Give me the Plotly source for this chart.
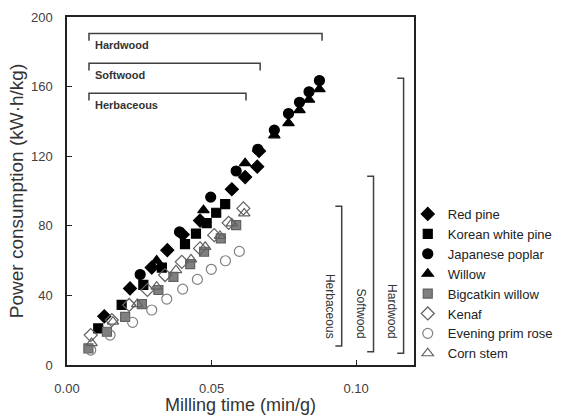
import plotly.graph_objects as go

# ---------------- data ----------------
red_pine_x = [0.0129, 0.0218, 0.0293, 0.0347, 0.0400, 0.0460, 0.0570, 0.0616, 0.0658, 0.0664]
red_pine_y = [28, 44, 56, 66, 75, 83, 101, 108, 114, 123]

korean_x = [0.0108, 0.0189, 0.0264, 0.0328, 0.0408, 0.0446, 0.0483, 0.0516, 0.0547]
korean_y = [21, 34.5, 46, 56, 69.5, 75.5, 81.5, 87.5, 92.5]

poplar_x = [0.0253, 0.0389, 0.0497, 0.0585, 0.0660, 0.0717, 0.0766, 0.0804, 0.0837, 0.0873]
poplar_y = [52, 76.5, 96.5, 111.5, 124, 135, 144.5, 151, 157, 163.5]

willow_x = [0.0310, 0.0472, 0.0616, 0.0717, 0.0766, 0.0804, 0.0837, 0.0873]
willow_y = [60, 89, 116, 132, 139, 146.5, 152.5, 158.5]

bigcatkin_x = [0.0074, 0.0138, 0.0201, 0.0259, 0.0316, 0.0368, 0.0426, 0.0474, 0.0532, 0.0585]
bigcatkin_y = [9.6, 19.1, 27.7, 35, 43.1, 50.7, 58, 65.1, 72.8, 80.4]

kenaf_x = [0.0082, 0.0155, 0.0215, 0.0278, 0.0339, 0.0397, 0.0460, 0.0509, 0.0559, 0.0610]
kenaf_y = [17.2, 25.8, 34.5, 43.1, 51.7, 59.3, 67, 74.6, 81.7, 90]

primrose_x = [0.0082, 0.0149, 0.0227, 0.0293, 0.0345, 0.0400, 0.0451, 0.0499, 0.0548, 0.0596]
primrose_y = [8.6, 17.2, 24.5, 31.6, 37.9, 43.6, 49.2, 55, 59.9, 65.3]

corn_x = [0.0085, 0.0159, 0.0243, 0.0310, 0.0377, 0.0429, 0.0478, 0.0529, 0.0570, 0.0613]
corn_y = [12.6, 24.9, 35, 45, 54.5, 60.7, 67.9, 74.2, 81.4, 87.1]

x_ticks = [0.00, 0.05, 0.10]
x_tick_labels = ["0.00", "0.05", "0.10"]
y_ticks = [0, 40, 80, 120, 160, 200]

# brackets: (label, x_start, x_end, y)
h_brackets = [("Hardwood", 0.0076, 0.0882, 190.5),
              ("Softwood", 0.0076, 0.0668, 173.4),
              ("Herbaceous", 0.0076, 0.0619, 156.2)]
# vertical brackets: (label, x, y_bottom, y_top)
v_brackets = [("Herbaceous", 0.0950, 10.9, 91.3),
              ("Softwood", 0.1060, 7.6, 108.5),
              ("Hardwood", 0.1164, 6.7, 164.8)]

FONT = "Liberation Sans, Arial, sans-serif"
fig = go.Figure()

series = [
    ("Red pine", red_pine_x, red_pine_y, "diamond", "black", "black", 10),
    ("Korean white pine", korean_x, korean_y, "square", "black", "black", 9),
    ("Japanese poplar", poplar_x, poplar_y, "circle", "black", "black", 10),
    ("Willow", willow_x, willow_y, "triangle-up", "black", "black", 10),
    ("Bigcatkin willow", bigcatkin_x, bigcatkin_y, "square", "#808080", "#606060", 9),
    ("Kenaf", kenaf_x, kenaf_y, "diamond-open", "#606060", "#606060", 10),
    ("Evening prim rose", primrose_x, primrose_y, "circle-open", "#808080", "#808080", 10),
    ("Corn stem", corn_x, corn_y, "triangle-up-open", "#606060", "#606060", 10),
]
for name, xs, ys, sym, col, lcol, sz in series:
    fig.add_trace(go.Scatter(
        x=xs, y=ys, mode="markers", name=name,
        marker=dict(symbol=sym, color=col, size=sz,
                    line=dict(color=lcol, width=1.2)),
    ))

line_col = "#404040"
shapes = []
annotations = []
tick_h = 4.2
tick_v = 0.0022
for label, x0, x1, y in h_brackets:
    shapes.append(dict(type="path", xref="x", yref="y",
                       path=f"M {x0},{y - tick_h} L {x0},{y} L {x1},{y} L {x1},{y - tick_h}",
                       line=dict(color=line_col, width=1.5)))
    annotations.append(dict(x=x0 + 0.0014, y=y - 6.8, xref="x", yref="y", text=f"<b>{label}</b>",
                            showarrow=False, xanchor="left", yanchor="middle",
                            font=dict(family=FONT, size=11, color="#333333")))
for label, x, y0, y1 in v_brackets:
    shapes.append(dict(type="path", xref="x", yref="y",
                       path=f"M {x - tick_v},{y1} L {x},{y1} L {x},{y0} L {x - tick_v},{y0}",
                       line=dict(color=line_col, width=1.5)))
    annotations.append(dict(x=x - 0.0042, y=13.8, xref="x", yref="y", text=label,
                            showarrow=False, xanchor="center", yanchor="bottom", textangle=90,
                            font=dict(family=FONT, size=12, color="#333333")))

fig.update_layout(
    width=587, height=415,
    margin=dict(l=67, r=173, t=17, b=50),
    paper_bgcolor="white", plot_bgcolor="white",
    font=dict(family=FONT, color="#333333"),
    showlegend=True,
    legend=dict(x=0.982, y=0.477, xanchor="left", yanchor="top",
                font=dict(family=FONT, size=13, color="#222222"),
                bgcolor="rgba(0,0,0,0)", itemwidth=30),
    shapes=shapes, annotations=annotations,
    xaxis=dict(range=[0, 0.12], tickvals=x_ticks, ticktext=x_tick_labels, automargin=False,
               showgrid=False, zeroline=False, showline=True, linecolor="#222222", linewidth=1.5,
               mirror=True, ticks="inside", ticklen=5, tickcolor="#222222", tickwidth=1.2,
               ticklabelstandoff=11,
               tickfont=dict(family=FONT, size=13, color="#404040"),
               title=dict(text="Milling time (min/g)", standoff=8,
                          font=dict(family=FONT, size=18, color="#333333"))),
    yaxis=dict(range=[0, 200], tickvals=y_ticks, automargin=False,
               showgrid=False, zeroline=False, showline=True, linecolor="#222222", linewidth=1.5,
               mirror=True, ticks="inside", ticklen=5, tickcolor="#222222", tickwidth=1.2,
               ticklabelstandoff=10,
               tickfont=dict(family=FONT, size=13, color="#404040"),
               title=dict(text="Power consumption (kW·h/kg)", standoff=2,
                          font=dict(family=FONT, size=19, color="#333333"))),
)

fig.write_html("out.html")
